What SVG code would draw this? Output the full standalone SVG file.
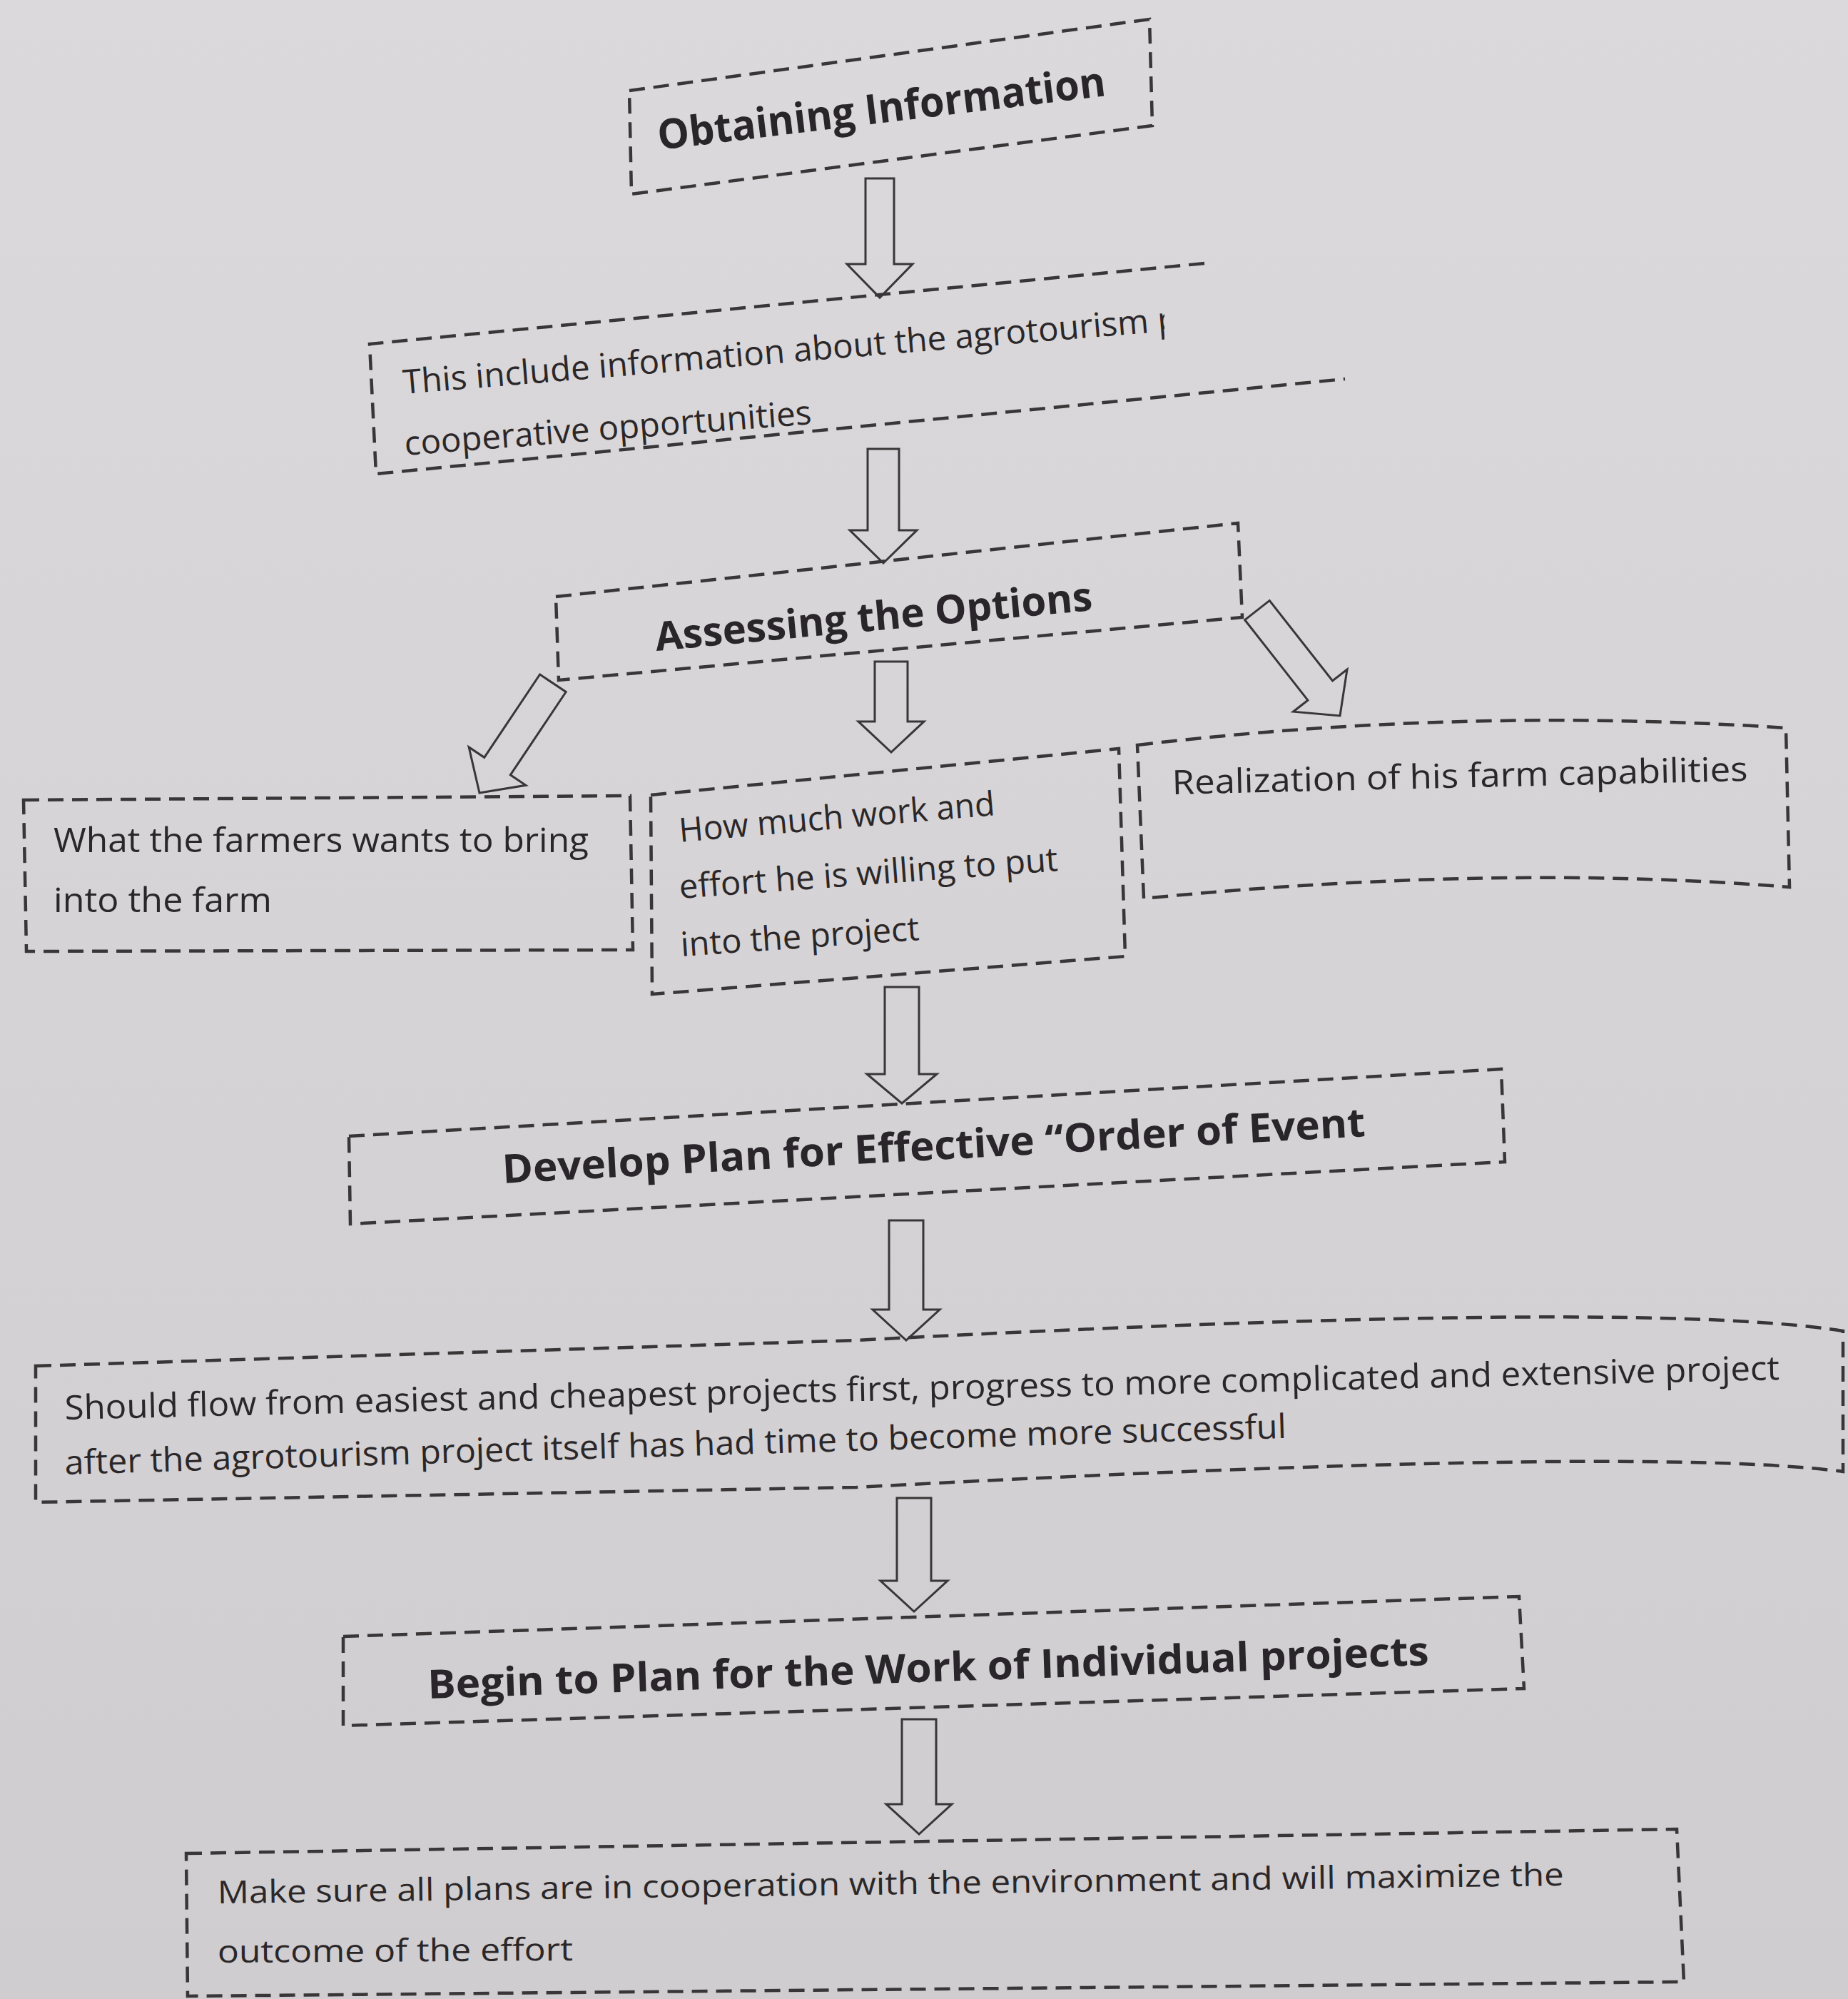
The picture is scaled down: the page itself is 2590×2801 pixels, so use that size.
<svg xmlns="http://www.w3.org/2000/svg" width="2590" height="2801" viewBox="0 0 2590 2801">
<defs>
<linearGradient id="bg" x1="0" y1="0" x2="0" y2="1">
<stop offset="0" stop-color="#dbd9db"/>
<stop offset="1" stop-color="#cfcdcf"/>
</linearGradient>
<clipPath id="cut2"><polygon points="0,0 1632,0 1632,2801 0,2801"/></clipPath>
<style>
.box{fill:none;stroke:#3a3638;stroke-width:4.5;stroke-dasharray:22 12;}
.arr{fill:none;stroke:#3a3638;stroke-width:3;stroke-linejoin:miter;}
.t{font-family:"Open Sans","Liberation Sans",sans-serif;font-size:47px;fill:#2b2729;}
.h{font-family:"Open Sans","Liberation Sans",sans-serif;font-size:56px;font-weight:bold;fill:#29252a;}
</style>
</defs>
<rect width="2590" height="2801" fill="url(#bg)"/>

<g id="connectors">
<polygon class="arr" points="1213,250 1253,250 1253,370 1279,370 1233,417 1187,370 1213,370"/>
<polygon class="arr" points="1216,629 1260,629 1260,743 1285,743 1238,789 1191,743 1216,743"/>
<polygon class="arr" points="1226,927 1272,927 1272,1011 1295,1011 1249,1054 1203,1011 1226,1011"/>
<polygon class="arr" points="1240,1383 1288,1383 1288,1505 1313,1505 1264,1546 1215,1505 1240,1505"/>
<polygon class="arr" points="1246,1710 1294,1710 1294,1835 1317,1835 1270,1878 1223,1835 1246,1835"/>
<polygon class="arr" points="1257,2099 1305,2099 1305,2215 1328,2215 1281,2258 1234,2215 1257,2215"/>
<polygon class="arr" points="1264,2409 1312,2409 1312,2528 1334,2528 1288,2570 1242,2528 1264,2528"/>
<polygon class="arr" transform="rotate(33.8 672 1111)" points="650,926 694,926 694,1066 720,1066 672,1111 624,1066 650,1066"/>
<polygon class="arr" transform="rotate(-38.1 1878 1003)" points="1856,815 1900,815 1900,958 1926,958 1878,1003 1830,958 1856,958"/>
</g>

<g id="n1">
<polygon class="box" points="882,127 1611,27 1615,176 885,272"/>
<text class="h" style="font-size:58px" x="924" y="210" transform="rotate(-6.91 924 210)" textLength="632" lengthAdjust="spacingAndGlyphs">Obtaining Information</text>
</g>

<g id="n2">
<path class="box" d="M1688,369 L518,482 L527,664 L1885,531"/>
<g clip-path="url(#cut2)">
<text class="t" x="566" y="552" transform="rotate(-4.7 566 552)" textLength="1090" lengthAdjust="spacingAndGlyphs">This include information about the agrotourism p</text>
</g>
<text class="t" x="568" y="638" transform="rotate(-4.4 568 638)" textLength="572" lengthAdjust="spacingAndGlyphs">cooperative opportunities</text>
</g>

<g id="n3">
<polygon class="box" points="779,836 1735,733 1741,865 783,953"/>
<text class="h" x="920" y="912" transform="rotate(-5.32 920 912)" textLength="615" lengthAdjust="spacingAndGlyphs">Assessing the Options</text>
</g>

<g id="n4">
<polygon class="box" points="33,1121 883,1115 887,1331 37,1333"/>
<text class="t" x="75" y="1194" textLength="750" lengthAdjust="spacingAndGlyphs">What the farmers wants to bring</text>
<text class="t" x="75" y="1278" textLength="306" lengthAdjust="spacingAndGlyphs">into the farm</text>
</g>

<g id="n5">
<polygon class="box" points="912,1114 1568,1049 1577,1340 914,1393"/>
<text class="t" x="953" y="1180" transform="rotate(-4.91 953 1180)" textLength="444" lengthAdjust="spacingAndGlyphs">How much work and</text>
<text class="t" x="953" y="1259" transform="rotate(-4.2 953 1259)" textLength="532" lengthAdjust="spacingAndGlyphs">effort he is willing to put</text>
<text class="t" x="955" y="1340" transform="rotate(-3.94 955 1340)" textLength="335" lengthAdjust="spacingAndGlyphs">into the project</text>
</g>

<g id="n6">
<path class="box" d="M1594,1044 Q2050,990 2503,1020 L2508,1243 Q2100,1210 1603,1259 Z"/>
<text class="t" x="1643" y="1113" transform="rotate(-1.35 1643 1113)" textLength="807" lengthAdjust="spacingAndGlyphs">Realization of his farm capabilities</text>
</g>

<g id="n7">
<polygon class="box" points="489,1592 2104,1498 2109,1628 491,1715"/>
<text class="h" x="705" y="1658" transform="rotate(-3.12 705 1658)" textLength="1211" lengthAdjust="spacingAndGlyphs">Develop Plan for Effective “Order of Event</text>
</g>

<g id="n8">
<path class="box" d="M50,1914 L1200,1878 Q2300,1820 2583,1865 L2583,2062 Q2300,2025 1200,2084 L50,2105 Z"/>
<text class="t" x="91" y="1989" transform="rotate(-1.33 91 1989)" textLength="2404" lengthAdjust="spacingAndGlyphs">Should flow from easiest and cheapest projects first, progress to more complicated and extensive project</text>
<text class="t" x="91" y="2066" transform="rotate(-1.71 91 2066)" textLength="1713" lengthAdjust="spacingAndGlyphs">after the agrotourism project itself has had time to become more successful</text>
</g>

<g id="n9">
<polygon class="box" points="481,2293 2129,2237 2136,2366 481,2418"/>
<text class="h" x="600" y="2380" transform="rotate(-1.92 600 2380)" textLength="1404" lengthAdjust="spacingAndGlyphs">Begin to Plan for the Work of Individual projects</text>
</g>

<g id="n10">
<polygon class="box" points="261,2597 2350,2563 2360,2777 263,2797"/>
<text class="t" style="font-size:44px" x="305" y="2667" transform="rotate(-0.76 305 2667)" textLength="1887" lengthAdjust="spacingAndGlyphs">Make sure all plans are in cooperation with the environment and will maximize the</text>
<text class="t" style="font-size:44px" x="305" y="2750" transform="rotate(-0.35 305 2750)" textLength="498" lengthAdjust="spacingAndGlyphs">outcome of the effort</text>
</g>
</svg>
